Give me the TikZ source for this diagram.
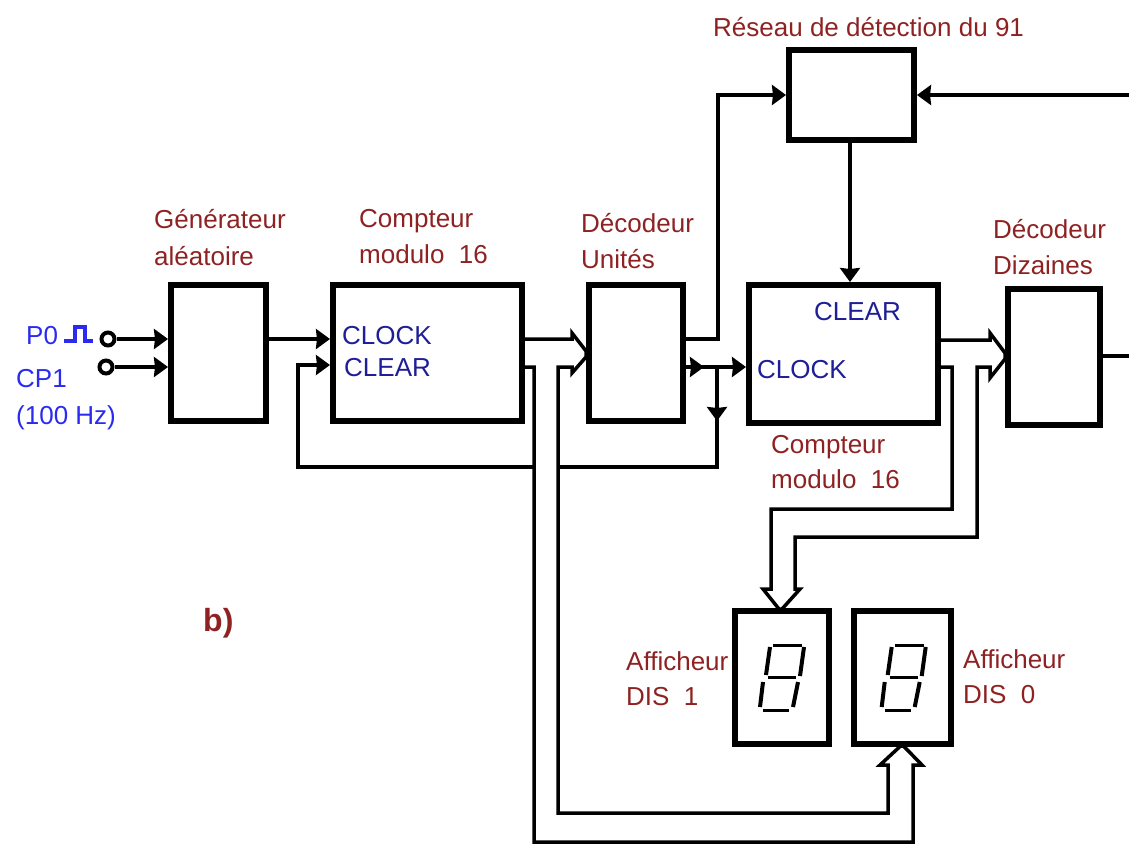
\documentclass[tikz,border=0pt]{standalone}
\usepackage{fontspec}
\setmainfont{Liberation Sans}
\usetikzlibrary{arrows.meta,calc}
\definecolor{lab}{HTML}{8E2222}
\definecolor{sig}{HTML}{1E1E96}
\definecolor{inp}{HTML}{2A2AF0}
\tikzset{
 blk/.style={draw=black,line width=6pt,fill=white,minimum width=#1,inner sep=0pt,rectangle,line join=miter},
 wire/.style={draw=black,line width=3.5pt,line join=miter},
 tip/.style={-{Stealth[length=14pt,width=20pt,inset=1pt]}},
 bus/.style={draw=black,line width=3.5pt,fill=white,line join=miter},
 txt/.style={anchor=base west,inner sep=0pt,font=\fontsize{26}{26}\selectfont},
 lbl/.style={txt,text=lab},
 sgl/.style={txt,text=sig},
 ipt/.style={txt,text=inp},
 term/.style={circle,draw=black,line width=4pt,fill=white,minimum size=13pt,inner sep=0pt},
 seg/.style={draw=black,line width=4pt},
 segh/.style={draw=black,line width=3pt},
}
\begin{document}
\begin{tikzpicture}[x=1pt,y=-1pt]
\useasboundingbox (0,0) rectangle (1129,844);
\node[blk=95pt,minimum height=136pt] (gen) at (218.5,353) {};
\node[blk=189pt,minimum height=136pt] (cA) at (427.5,353) {};
\node[blk=94pt,minimum height=136pt] (du) at (636,353) {};
\node[blk=189pt,minimum height=138pt] (cB) at (843.5,354) {};
\node[blk=92pt,minimum height=136pt] (dd) at (1054,357) {};
\node[blk=125pt,minimum height=90pt] (det) at (851.5,95) {};
\node[blk=94pt,minimum height=133pt] (disA) at (782,677.5) {};
\node[blk=97pt,minimum height=133pt] (disB) at (902.5,677.5) {};
\node[term] (pa) at (108,339) {};
\node[term] (pb) at (106,367) {};
\coordinate (edgeA) at (1129,95);
\coordinate (edgeB) at (1129,356);
\coordinate (jn) at (717,367);
\coordinate (mid) at (704,367);
% signal wires
\draw[wire,tip] (pa) -- (gen.west |- pa);
\draw[wire,tip] (pb) -- (gen.west |- pb);
\draw[wire,tip] (gen.east |- pa) -- (cA.west |- pa);
\draw[wire,tip] (jn) -- (717,467) -- (298,467) -- (298,365) -- (cA.west |- 0,365);
\draw[wire,tip] (jn) -- (717,421);
\draw[wire,tip] (du.east |- jn) -- (cB.west |- jn);
\draw[wire,tip] (du.east |- jn) -- (mid);
\draw[wire,tip] (du.east |- 0,339) -- (718,339) -- (718,95) -- (det.west |- edgeA);
\draw[wire,tip] (edgeA) -- (det.east |- edgeA);
\draw[wire,tip] (det.south -| 850,0) -- (cB.north -| 850,0);
\draw[wire] (dd.east |- edgeB) -- (edgeB);
% buses
\draw[bus] (cA.east |- 0,339) -- (572,339) -- (572,333) -- (du.west |- 0,351) -- (du.west |- 0,357) -- (572,373) -- (572,367) -- (558,367) -- (558,813) -- (888,813) -- (888,765) -- (880,765) -- (900.5,746) -- (903.5,746) -- (922,765) -- (913,765) -- (913,842) -- (534,842) -- (534,367) -- (cA.east |- 0,367);
\draw[bus] (cB.east |- 0,340) -- (990,340) -- (990,333) -- (dd.west |- 0,353) -- (dd.west |- 0,359) -- (990,378) -- (990,367) -- (977,367) -- (977,537) -- (795,537) -- (795,589) -- (800,589) -- (782,609) -- (779,609) -- (763,589) -- (771,589) -- (771,509) -- (952,509) -- (952,367) -- (cB.east |- 0,367);
% pulse
\draw[inp,line width=4pt,line join=miter] (64,341) -- (75,341) -- (75,326.5) -- (85,326.5) -- (85,341) -- (93,341);
% seven segments
\foreach \dx in {0,121.7}{
 \begin{scope}[shift={(\dx,0)}]
  \draw[segh] (773,645) -- (802,645);
  \draw[seg] (770,647) -- (766,675);
  \draw[seg] (804,647) -- (800,676);
  \draw[segh] (768,677) -- (796,677);
  \draw[seg] (763,682) -- (760,707);
  \draw[seg] (798,682) -- (793,707);
  \draw[segh] (763,710) -- (789,710);
 \end{scope}
}
% labels
\node[lbl] (t1) at (713,36) {Réseau de détection du 91};
\node[lbl] (t2) at (154,228) {Générateur};
\node[lbl] (t3) at (154,265) {aléatoire};
\node[lbl] (t4) at (359,227) {Compteur};
\node[lbl] (t5) at (359,263) {modulo\ \ 16};
\node[lbl] (t6) at (581,232) {Décodeur};
\node[lbl] (t7) at (581,268) {Unités};
\node[lbl] (t8) at (993,238) {Décodeur};
\node[lbl] (t9) at (993,274) {Dizaines};
\node[lbl] (t10) at (771,453) {Compteur};
\node[lbl] (t11) at (771,488) {modulo\ \ 16};
\node[lbl] (t12) at (626,670) {Afficheur};
\node[lbl] (t13) at (626,705) {DIS\ \ 1};
\node[lbl] (t14) at (963,668) {Afficheur};
\node[lbl] (t15) at (963,703) {DIS\ \ 0};
\node[lbl,font=\fontsize{32}{32}\selectfont\bfseries] (t16) at (203,631) {b)};
\node[sgl] (s1) at (342,344) {CLOCK};
\node[sgl] (s2) at (344,376) {CLEAR};
\node[sgl] (s3) at (814,320) {CLEAR};
\node[sgl] (s4) at (757,378) {CLOCK};
\node[ipt] (i1) at (26,344) {P0};
\node[ipt] (i2) at (16,387) {CP1};
\node[ipt] (i3) at (16,424) {(100 Hz)};
\end{tikzpicture}
\end{document}
